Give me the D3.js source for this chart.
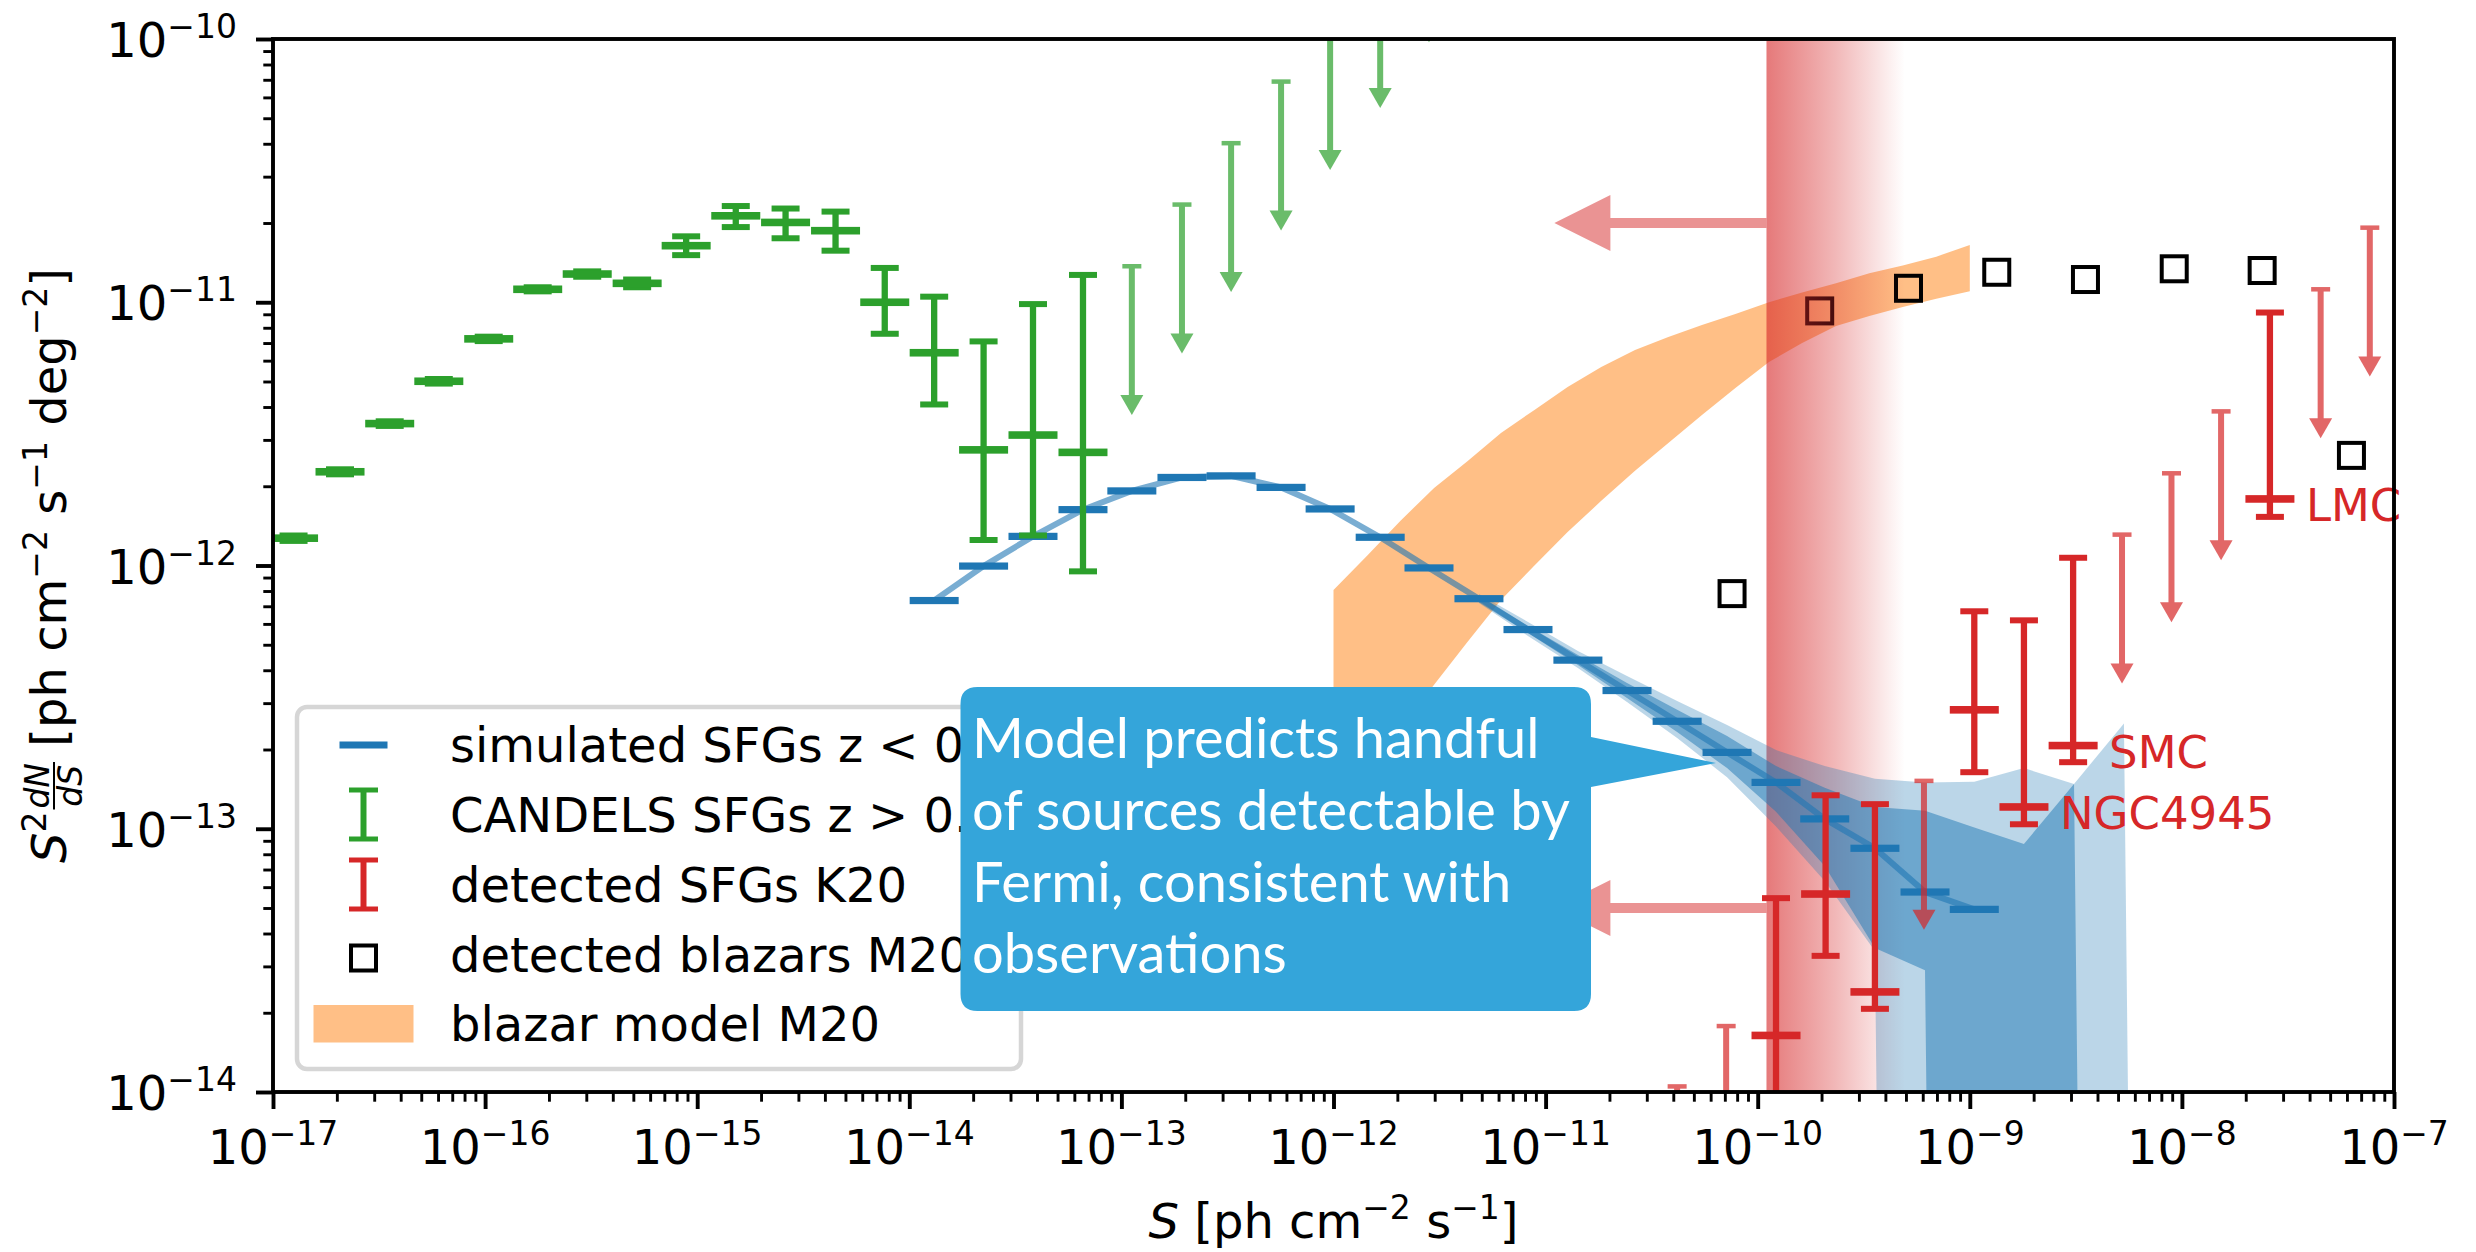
<!DOCTYPE html>
<html>
<head>
<meta charset="utf-8">
<script src="https://cdn.jsdelivr.net/npm/d3@7"></script>
<style>
  body { margin: 0; background: #fff; }
  svg { display: block; font-family: "DejaVu Sans", sans-serif; }
</style>
</head>
<body>
<svg id="chart" width="2476" height="1252"></svg>
<script>
// simulated SFGs z < 0.1 (median per flux bin)
const simS = [1.31e-14, 2.24e-14, 3.83e-14, 6.59e-14, 1.12e-13, 1.93e-13, 3.29e-13, 5.66e-13, 9.64e-13, 1.66e-12, 2.82e-12,
              4.85e-12, 8.26e-12, 1.42e-11, 2.42e-11, 4.17e-11, 7.17e-11, 1.22e-10, 2.07e-10, 3.57e-10, 6.15e-10, 1.05e-9];
const simY = [7.36e-13, 9.95e-13, 1.29e-12, 1.63e-12, 1.92e-12, 2.16e-12, 2.19e-12, 1.98e-12, 1.64e-12, 1.28e-12, 9.79e-13,
              7.48e-13, 5.71e-13, 4.37e-13, 3.35e-13, 2.56e-13, 1.95e-13, 1.50e-13, 1.09e-13, 8.43e-14, 5.75e-14, 4.94e-14];

// scatter bands of the simulation (0 = no value, drops off the log axis)
const bandS = [4.85e-12, 8.26e-12, 1.42e-11, 2.42e-11, 4.17e-11, 7.17e-11, 1.22e-10, 2.07e-10, 3.57e-10, 6.15e-10, 1.05e-9, 1.80e-9, 3.10e-9, 5.33e-9, 9.18e-9];
const wideHi = [7.80e-13, 6.10e-13, 4.73e-13, 3.80e-13, 3.06e-13, 2.48e-13, 1.99e-13, 1.73e-13, 1.55e-13, 1.50e-13, 1.51e-13, 1.70e-13, 1.48e-13, 2.51e-13, 0];
const wideLo = [7.20e-13, 5.40e-13, 4.08e-13, 3.03e-13, 2.21e-13, 1.57e-13, 1.02e-13, 6.33e-14, 3.43e-14, 0, 0, 0, 0, 0, 0];
const narrowHi = [7.66e-13, 5.89e-13, 4.57e-13, 3.58e-13, 2.83e-13, 2.25e-13, 1.73e-13, 1.43e-13, 1.21e-13, 1.17e-13, 1.01e-13, 8.75e-14, 1.48e-13, 0, 0];
const narrowLo = [7.33e-13, 5.54e-13, 4.19e-13, 3.14e-13, 2.33e-13, 1.70e-13, 1.16e-13, 7.22e-14, 3.52e-14, 2.90e-14, 0, 0, 0, 0, 0];

// CANDELS SFGs z > 0.1
const candS = [1.25e-17, 2.07e-17, 3.55e-17, 6.05e-17, 1.04e-16, 1.77e-16, 3.03e-16, 5.21e-16, 8.87e-16, 1.52e-15, 2.61e-15,
               4.49e-15, 7.66e-15, 1.31e-14, 2.24e-14, 3.83e-14, 6.59e-14];
const candY = [1.27e-12, 2.27e-12, 3.46e-12, 5.01e-12, 7.26e-12, 1.12e-11, 1.28e-11, 1.18e-11, 1.64e-11, 2.13e-11, 2.01e-11,
               1.87e-11, 1.00e-11, 6.43e-12, 2.75e-12, 3.13e-12, 2.69e-12];
const candLo = [1.24e-12, 2.22e-12, 3.39e-12, 4.91e-12, 7.12e-12, 1.10e-11, 1.25e-11, 1.14e-11, 1.51e-11, 1.93e-11, 1.75e-11,
                1.57e-11, 7.59e-12, 4.09e-12, 1.25e-12, 1.30e-12, 9.50e-13];
const candHi = [1.30e-12, 2.32e-12, 3.53e-12, 5.11e-12, 7.40e-12, 1.14e-11, 1.31e-11, 1.22e-11, 1.78e-11, 2.32e-11, 2.27e-11,
                2.21e-11, 1.35e-11, 1.05e-11, 7.10e-12, 9.84e-12, 1.27e-11];
const candUlS = [1.12e-13, 1.93e-13, 3.29e-13, 5.66e-13, 9.64e-13, 1.66e-12, 2.82e-12];
const candUlY = [1.37e-11, 2.35e-11, 4.02e-11, 6.89e-11, 1.17e-10, 2.01e-10, 3.57e-10];

// detected SFGs K20
const k20S = [1.22e-10, 2.09e-10, 3.57e-10, 1.05e-9, 1.80e-9, 3.07e-9, 2.60e-8];
const k20Y = [1.64e-14, 5.65e-14, 2.40e-14, 2.83e-13, 1.21e-13, 2.07e-13, 1.79e-12];
const k20Lo = [4.0e-15, 3.29e-14, 2.07e-14, 1.64e-13, 1.04e-13, 1.79e-13, 1.53e-12];
const k20Hi = [5.45e-14, 1.34e-13, 1.24e-13, 6.70e-13, 6.19e-13, 1.07e-12, 9.14e-12];
const k20Names = ["", "", "", "", "NGC4945", "SMC", "LMC"];
const k20UlS = [4.17e-11, 7.10e-11, 6.08e-10, 5.22e-9, 8.93e-9, 1.53e-8, 4.51e-8, 7.69e-8];
const k20UlY = [1.05e-14, 1.78e-14, 1.52e-13, 1.31e-12, 2.24e-12, 3.85e-12, 1.12e-11, 1.92e-11];

// detected blazars M20
const blzS = [7.57e-11, 1.96e-10, 5.14e-10, 1.34e-9, 3.51e-9, 9.20e-9, 2.39e-8, 6.30e-8];
const blzY = [7.82e-13, 9.27e-12, 1.13e-11, 1.30e-11, 1.22e-11, 1.34e-11, 1.32e-11, 2.62e-12];

// blazar model M20
const modelS = [1.00e-12, 1.44e-12, 2.07e-12, 2.98e-12, 4.28e-12, 6.16e-12, 8.86e-12, 1.27e-11, 1.83e-11, 2.64e-11,
                3.79e-11, 5.46e-11, 7.85e-11, 1.13e-10, 1.62e-10, 2.34e-10, 3.36e-10, 4.83e-10, 6.95e-10, 1.00e-9];
const modelLo = [1.18e-13, 1.70e-13, 2.43e-13, 3.52e-13, 5.12e-13, 7.39e-13, 1.00e-12, 1.34e-12, 1.76e-12, 2.29e-12,
                 2.92e-12, 3.73e-12, 4.72e-12, 5.93e-12, 7.00e-12, 8.12e-12, 8.87e-12, 9.59e-12, 1.03e-11, 1.10e-11];
const modelHi = [8.07e-13, 1.09e-12, 1.48e-12, 1.97e-12, 2.49e-12, 3.19e-12, 3.90e-12, 4.76e-12, 5.68e-12, 6.59e-12,
                 7.38e-12, 8.20e-12, 9.02e-12, 1.00e-11, 1.09e-11, 1.18e-11, 1.29e-11, 1.38e-11, 1.49e-11, 1.65e-11];

// Fermi sensitivity: fading threshold band and "detectable" arrows
const fermiEdge = [1.1e-10, 4.94e-10];
const arrowFrom = 1.1e-10, arrowTo = 1.1e-11;
const arrowLevels = [2.0e-11, 5.0e-14];

const xMajor = [-17, -16, -15, -14, -13, -12, -11, -10, -9, -8, -7];
const yMajor = [-14, -13, -12, -11, -10];
const legendLabels = ["simulated SFGs z < 0.1", "CANDELS SFGs z > 0.1", "detected SFGs K20", "detected blazars M20", "blazar model M20"];
const noteLines = ["Model predicts handful", "of sources detectable by", "Fermi, consistent with", "observations"];

const BLUE = "#1f77b4", GREEN = "#2ca02c", RED = "#d62728", ORANGE = "#ff7f0e";
const NB = "\u00a0";
const svg = d3.select("#chart");
const L = 273, R = 2394, T = 39, B = 1092;
const x = d3.scaleLog().domain([1e-17, 1e-7]).range([L, R]);
const y = d3.scaleLog().domain([1e-14, 1e-10]).range([B, T]);
const yc = v => v > 0 ? y(v) : y(1e-30);
const ULDROP = 0.272;   // arrow length of the upper limits (ratio)

const defs = svg.append("defs");
defs.append("clipPath").attr("id", "plotclip").append("rect")
    .attr("x", L).attr("y", T).attr("width", R - L).attr("height", B - T);
const grad = defs.append("linearGradient").attr("id", "fermigrad")
    .attr("gradientUnits", "userSpaceOnUse")
    .attr("x1", x(fermiEdge[0])).attr("x2", x(fermiEdge[1])).attr("y1", 0).attr("y2", 0);
grad.append("stop").attr("offset", 0).attr("stop-color", RED).attr("stop-opacity", 0.62);
grad.append("stop").attr("offset", 0.5).attr("stop-color", RED).attr("stop-opacity", 0.33);
grad.append("stop").attr("offset", 1).attr("stop-color", RED).attr("stop-opacity", 0);

const plot = svg.append("g").attr("clip-path", "url(#plotclip)");

// blazar model band
plot.append("path")
    .datum(modelS.map((s, i) => ({ s, lo: modelLo[i], hi: modelHi[i] })))
    .attr("d", d3.area().x(d => x(d.s)).y0(d => y(d.lo)).y1(d => y(d.hi)))
    .attr("fill", ORANGE).attr("opacity", 0.5);

// detected blazars
plot.selectAll(null).data(blzS).join("rect")
    .attr("x", d => x(d) - 12.5).attr("y", (d, i) => y(blzY[i]) - 12.5)
    .attr("width", 25).attr("height", 25)
    .attr("fill", "none").attr("stroke", "#000").attr("stroke-width", 4);

// Fermi threshold
plot.append("rect")
    .attr("x", x(fermiEdge[0])).attr("y", T)
    .attr("width", x(fermiEdge[1]) - x(fermiEdge[0])).attr("height", B - T)
    .attr("fill", "url(#fermigrad)");

// simulation bands
const bandArea = d3.area().x(d => x(d.s)).y0(d => yc(d.lo)).y1(d => yc(d.hi));
plot.append("path")
    .datum(bandS.map((s, i) => ({ s, lo: wideLo[i], hi: wideHi[i] })))
    .attr("d", bandArea).attr("fill", BLUE).attr("opacity", 0.3);
plot.append("path")
    .datum(bandS.map((s, i) => ({ s, lo: narrowLo[i], hi: narrowHi[i] })))
    .attr("d", bandArea).attr("fill", BLUE).attr("opacity", 0.5);

// simulation median
plot.append("path")
    .datum(simS.map((s, i) => [s, simY[i]]))
    .attr("d", d3.line().x(d => x(d[0])).y(d => y(d[1])))
    .attr("fill", "none").attr("stroke", BLUE).attr("stroke-width", 6).attr("opacity", 0.6);
plot.selectAll(null).data(simS).join("rect")
    .attr("x", d => x(d) - 24.5).attr("y", (d, i) => y(simY[i]) - 3.6)
    .attr("width", 49).attr("height", 7.2).attr("fill", BLUE);

function errorBars(g, S, Y, lo, hi, color) {
    g.selectAll(null).data(S).join("line")
        .attr("x1", d => x(d)).attr("x2", d => x(d))
        .attr("y1", (d, i) => yc(lo[i])).attr("y2", (d, i) => y(hi[i]))
        .attr("stroke", color).attr("stroke-width", 6.3);
    [lo, hi].forEach(arr => {
        g.selectAll(null).data(S).join("line")
            .attr("x1", d => x(d) - 14).attr("x2", d => x(d) + 14)
            .attr("y1", (d, i) => yc(arr[i])).attr("y2", (d, i) => yc(arr[i]))
            .attr("stroke", color).attr("stroke-width", 6);
    });
    g.selectAll(null).data(S).join("rect")
        .attr("x", d => x(d) - 24.5).attr("y", (d, i) => y(Y[i]) - 3.8)
        .attr("width", 49).attr("height", 7.6).attr("fill", color);
}

function upperLimits(g, S, top, color) {
    const u = g.append("g").attr("opacity", 0.7);
    S.forEach((s, i) => {
        const cx = x(s), y0 = y(top[i]), y1 = y(top[i] * ULDROP);
        u.append("line").attr("x1", cx).attr("x2", cx).attr("y1", y0).attr("y2", y1 - 18)
            .attr("stroke", color).attr("stroke-width", 6);
        u.append("line").attr("x1", cx - 9.5).attr("x2", cx + 9.5).attr("y1", y0).attr("y2", y0)
            .attr("stroke", color).attr("stroke-width", 4.5);
        u.append("path").attr("d", `M${cx - 11.5},${y1 - 20}L${cx + 11.5},${y1 - 20}L${cx},${y1}Z`)
            .attr("fill", color);
    });
}

errorBars(plot.append("g"), candS, candY, candLo, candHi, GREEN);
upperLimits(plot, candUlS, candUlY, GREEN);
errorBars(plot.append("g"), k20S, k20Y, k20Lo, k20Hi, RED);
upperLimits(plot, k20UlS, k20UlY, RED);

// arrows pointing to the detectable side
const arr = plot.append("g").attr("opacity", 0.5);
arrowLevels.forEach(v => {
    const yy = y(v), x0 = x(arrowFrom), x1 = x(arrowTo);
    arr.append("path")
        .attr("d", `M${x0},${yy - 5}L${x1 + 56},${yy - 5}L${x1 + 56},${yy - 28}L${x1},${yy}L${x1 + 56},${yy + 28}L${x1 + 56},${yy + 5}L${x0},${yy + 5}Z`)
        .attr("fill", RED);
});

// source names
svg.selectAll(null).data(k20S.filter((d, i) => k20Names[i])).join("text")
    .attr("x", d => x(d) + 36)
    .attr("y", d => y(k20Y[k20S.indexOf(d)]) + 22)
    .attr("font-size", 45).attr("fill", RED)
    .text(d => k20Names[k20S.indexOf(d)]);

// frame and ticks
svg.append("rect").attr("x", L).attr("y", T).attr("width", R - L).attr("height", B - T)
    .attr("fill", "none").attr("stroke", "#000").attr("stroke-width", 3.9);

function minors(exps) {
    const out = [];
    exps.slice(0, -1).forEach(e => { for (let k = 2; k <= 9; k++) out.push(k * Math.pow(10, e)); });
    return out;
}
const tickStyle = (w) => g => { g.select(".domain").remove(); g.selectAll("line").attr("stroke-width", w); };
svg.append("g").attr("transform", `translate(0,${B})`)
    .call(d3.axisBottom(x).tickValues(xMajor.map(e => Math.pow(10, e))).tickSize(17).tickFormat(""))
    .call(tickStyle(3.9));
svg.append("g").attr("transform", `translate(0,${B})`)
    .call(d3.axisBottom(x).tickValues(minors(xMajor)).tickSize(9.7).tickFormat(""))
    .call(tickStyle(2.9));
svg.append("g").attr("transform", `translate(${L},0)`)
    .call(d3.axisLeft(y).tickValues(yMajor.map(e => Math.pow(10, e))).tickSize(17).tickFormat(""))
    .call(tickStyle(3.9));
svg.append("g").attr("transform", `translate(${L},0)`)
    .call(d3.axisLeft(y).tickValues(minors(yMajor)).tickSize(9.7).tickFormat(""))
    .call(tickStyle(2.9));

const xLab = svg.append("g").selectAll("text").data(xMajor).join("text")
    .attr("x", e => x(Math.pow(10, e))).attr("y", 1164)
    .attr("text-anchor", "middle").attr("font-size", 48);
xLab.text("10").append("tspan").attr("dy", -19).attr("font-size", 33).text(e => "\u2212" + Math.abs(e));
const yLab = svg.append("g").selectAll("text").data(yMajor).join("text")
    .attr("x", 237).attr("y", e => y(Math.pow(10, e)) + 18)
    .attr("text-anchor", "end").attr("font-size", 48);
yLab.text("10").append("tspan").attr("dy", -19).attr("font-size", 33).text(e => "\u2212" + Math.abs(e));

// x axis title
const xt = svg.append("text").attr("x", (L + R) / 2).attr("y", 1238).attr("text-anchor", "middle").attr("font-size", 48);
xt.append("tspan").attr("font-style", "italic").text("S");
xt.append("tspan").text(NB + "[ph cm");
xt.append("tspan").attr("dy", -19).attr("font-size", 33).text("\u22122");
xt.append("tspan").attr("dy", 19).text(NB + "s");
xt.append("tspan").attr("dy", -19).attr("font-size", 33).text("\u22121");
xt.append("tspan").attr("dy", 19).text("]");

// y axis title, composed piece by piece in a rotated frame
const yt = svg.append("g").attr("transform", `translate(66,${(T + B) / 2}) rotate(-90)`);
const inner = yt.append("g");
let cur = 0;
const put = (txt, size, dy, italic) => {
    const t = inner.append("text").attr("x", cur).attr("y", dy).attr("font-size", size).text(txt);
    if (italic) t.attr("font-style", "italic");
    cur += t.node().getComputedTextLength();
    return t;
};
put("S", 48, 0, true);
put("2", 33, -20, false);
cur += 2;
const fx = cur;
const num = inner.append("text").attr("y", -17).attr("font-size", 33).attr("font-style", "italic").attr("text-anchor", "middle").text("dN");
const den = inner.append("text").attr("y", 16).attr("font-size", 33).attr("font-style", "italic").attr("text-anchor", "middle").text("dS");
const fw = Math.max(num.node().getComputedTextLength(), den.node().getComputedTextLength()) + 2;
num.attr("x", fx + fw / 2); den.attr("x", fx + fw / 2);
inner.append("line").attr("x1", fx).attr("x2", fx + fw).attr("y1", -12).attr("y2", -12).attr("stroke", "#000").attr("stroke-width", 2);
cur += fw;
put(NB + "[ph cm", 48, 0);
put("\u22122", 33, -19);
put(NB + "s", 48, 0);
put("\u22121", 33, -19);
put(NB + "deg", 48, 0);
put("\u22122", 33, -19);
put("]", 48, 0);
inner.attr("transform", `translate(${-cur / 2},0)`);

// legend
const lg = svg.append("g");
lg.append("rect").attr("x", 297).attr("y", 707).attr("width", 724).attr("height", 362).attr("rx", 10)
    .attr("fill", "#fff").attr("fill-opacity", 0.8).attr("stroke", "#d6d6d6").attr("stroke-width", 4.5);
const rowBase = [762, 832, 902, 972, 1041];
lg.selectAll(null).data(legendLabels).join("text")
    .attr("x", 450).attr("y", (d, i) => rowBase[i]).attr("font-size", 48).text(d => d);
lg.append("rect").attr("x", 339.5).attr("y", 741.5).attr("width", 48).attr("height", 7).attr("fill", BLUE);
[[GREEN, 790, 839], [RED, 860, 909]].forEach(([c, a, b]) => {
    lg.append("line").attr("x1", 363.5).attr("x2", 363.5).attr("y1", a).attr("y2", b).attr("stroke", c).attr("stroke-width", 6);
    [a, b].forEach(v => lg.append("line").attr("x1", 349).attr("x2", 378).attr("y1", v).attr("y2", v).attr("stroke", c).attr("stroke-width", 5));
});
lg.append("rect").attr("x", 351).attr("y", 945.5).attr("width", 25).attr("height", 25)
    .attr("fill", "none").attr("stroke", "#000").attr("stroke-width", 4);
lg.append("rect").attr("x", 313.5).attr("y", 1005).attr("width", 100).attr("height", 37.5)
    .attr("fill", ORANGE).attr("opacity", 0.5);

// callout
const co = svg.append("g");
const bx0 = 960.5, by0 = 687, bx1 = 1591, by1 = 1011, r = 17;
co.append("path")
    .attr("d", `M${bx0 + r},${by0}H${bx1 - r}Q${bx1},${by0} ${bx1},${by0 + r}V737L1716,763L${bx1},787V${by1 - r}Q${bx1},${by1} ${bx1 - r},${by1}H${bx0 + r}Q${bx0},${by1} ${bx0},${by1 - r}V${by0 + r}Q${bx0},${by0} ${bx0 + r},${by0}Z`)
    .attr("fill", "#34a5da");
co.selectAll(null).data(noteLines).join("text")
    .attr("x", 972).attr("y", (d, i) => 758 + i * 71.8)
    .attr("font-family", "Lato").attr("font-size", 56).attr("fill", "#fff")
    .text(d => d);
</script>
</body>
</html>
